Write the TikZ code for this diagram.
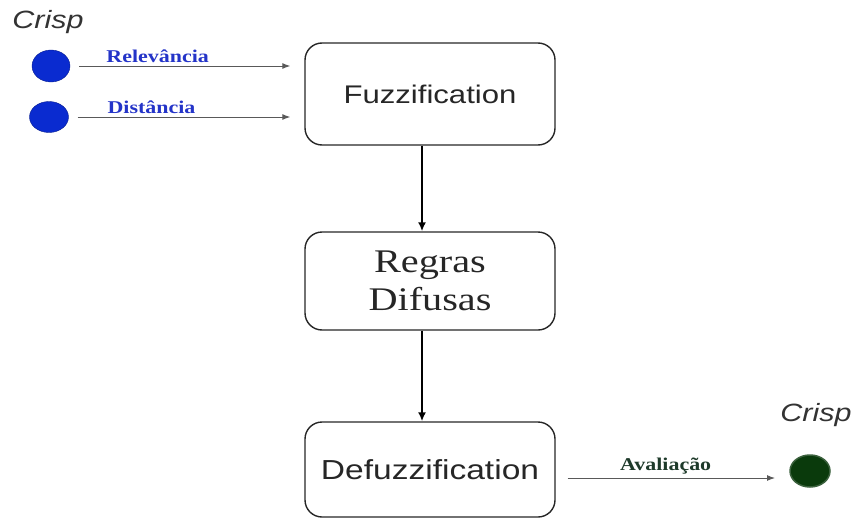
\documentclass[tikz,border=0pt]{standalone}
\usepackage{fontspec}
\usepackage{graphicx}
\setmainfont{Liberation Serif}
\setsansfont{Liberation Sans}
\usetikzlibrary{arrows.meta,shapes.geometric}
\definecolor{lblblue}{HTML}{2434C8}
\definecolor{dotblue}{HTML}{0A2BD0}
\definecolor{dotgreen}{HTML}{0A3A0C}
\definecolor{lblgreen}{HTML}{1E3A2A}
\newcommand{\wtxt}[1]{\scalebox{1.22}[1]{#1}}
\begin{document}
\begin{tikzpicture}[x=1pt,y=-1pt]
 \tikzstyle{stage}=[draw=black!85,line width=1.4pt,rounded corners=17pt,minimum width=250pt,inner sep=0pt,text=black!85];
 \tikzstyle{dot}=[ellipse,inner sep=0pt];
 \tikzstyle{feed}=[draw=black!65,line width=1pt,-{Latex[length=8pt,width=6pt]},shorten >=14pt];
 \tikzstyle{flow}=[draw=black,line width=2.6pt,-{Latex[length=9pt,width=8pt]}];
 \tikzstyle{lbl}=[font=\fontsize{18}{18}\selectfont\bfseries,inner sep=3pt];
 \tikzstyle{crisp}=[font=\sffamily\itshape\fontsize{25}{25}\selectfont,text=black!80,inner sep=0pt];
    \useasboundingbox (0,0) rectangle (853,519);
    \node at (430,94) (fuzz) [stage,minimum height=102pt,font=\sffamily\fontsize{25.5}{25.5}\selectfont] {\wtxt{Fuzzification}};
    \node at (430,281) (regras) [stage,minimum height=98pt,align=center,font=\fontsize{33}{38}\selectfont] {\wtxt{Regras}\\\wtxt{Difusas}};
    \node at (430,469.5) (defuzz) [stage,minimum height=95pt,font=\sffamily\fontsize{27.5}{27.5}\selectfont] {\wtxt{Defuzzification}};
    \node at (48,22) (crispin) [crisp] {\wtxt{Crisp}};
    \node at (816,415) (crispout) [crisp] {\wtxt{Crisp}};
    \node at (51,66) (rel) [dot,fill=dotblue,draw=dotblue!70!black,minimum width=38pt,minimum height=32pt] {};
    \node at (49,117) (dist) [dot,fill=dotblue,draw=dotblue!70!black,minimum width=39pt,minimum height=31pt] {};
    \node at (810,471) (aval) [dot,fill=dotgreen,draw=dotgreen!80,line width=1.5pt,minimum width=40pt,minimum height=32pt] {};
    \coordinate (avalin) at (790,478);
        \draw[feed,shorten <=9pt] (rel) -- (fuzz.west |- rel) node[lbl,pos=0.14,above right,text=lblblue] {\wtxt{Relevância}};
    \draw[feed,shorten <=9pt] (dist) -- (fuzz.west |- dist) node[lbl,pos=0.15,above right,text=lblblue] {\wtxt{Distância}};
    \draw[feed,shorten <=12pt,shorten >=15pt] (defuzz.east |- avalin) -- (avalin) node[lbl,pos=0.26,above right,text=lblgreen] {\wtxt{Avaliação}};

    \draw[flow] ([xshift=-8]fuzz.south) -- ([xshift=-8]regras.north);
    \draw[flow] ([xshift=-8]regras.south) -- ([xshift=-8]defuzz.north);
\end{tikzpicture}
\end{document}
